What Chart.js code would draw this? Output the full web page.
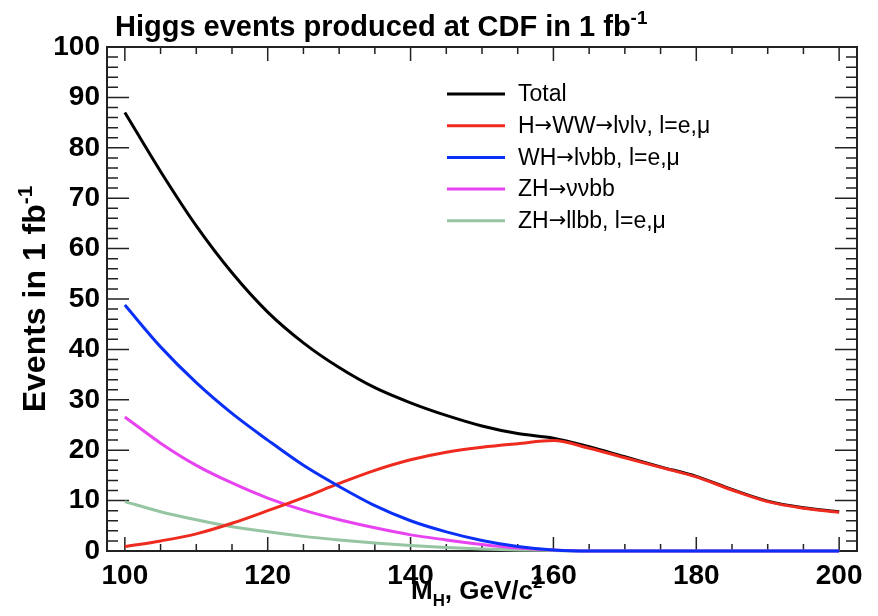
<!DOCTYPE html>
<html>
<head>
<meta charset="utf-8">
<script src="https://cdn.jsdelivr.net/npm/chart.js@4"></script>
<style>
    html, body { margin: 0; padding: 0; background: #fff; }
    #wrap { width: 878px; height: 616px; }
</style>
</head>
<body>
<div id="wrap"><canvas id="lineChart" width="878" height="616"></canvas></div>
<script>
// Higgs mass points (GeV/c^2)
var mass = [100, 105, 110, 115, 120, 125, 130, 135, 140, 145, 150, 155, 160, 165, 170, 175, 180, 185, 190, 195, 200];

// events in 1 fb-1
var total  = [87.0, 75.3, 64.5, 55.2, 47.4, 41.3, 36.4, 32.4, 29.4, 26.9, 24.8, 23.3, 22.4, 20.7, 18.7, 16.7, 14.8, 12.2, 9.9, 8.6, 7.8];
var hww    = [0.9, 2.0, 3.4, 5.5, 8.0, 10.6, 13.4, 16.0, 18.1, 19.6, 20.6, 21.3, 21.9, 20.4, 18.5, 16.6, 14.7, 12.1, 9.8, 8.5, 7.7];
var whlvbb = [48.8, 40.5, 33.4, 27.3, 22.0, 17.0, 12.8, 9.0, 6.0, 3.8, 2.1, 0.9, 0.2, 0, 0, 0, 0, 0, 0, 0, 0];
var zhvvbb = [26.6, 21.4, 17.0, 13.5, 10.5, 8.1, 6.2, 4.6, 3.2, 2.2, 1.3, 0.6, 0.2, 0, 0, 0, 0, 0, 0, 0, 0];
var zhllbb = [9.8, 7.8, 6.2, 4.8, 3.8, 2.9, 2.2, 1.6, 1.1, 0.7, 0.4, 0.2, 0.1, 0, 0, 0, 0, 0, 0, 0, 0];

var seriesLabels = ["Total", "H\u2192WW\u2192l\u03bdl\u03bd, l=e,\u03bc", "WH\u2192l\u03bdbb, l=e,\u03bc", "ZH\u2192\u03bd\u03bdbb", "ZH\u2192llbb, l=e,\u03bc"];
var xTickValues = [100, 120, 140, 160, 180, 200];
var yTickStep = 10;

var FONT = "'Liberation Sans', Arial, Helvetica, sans-serif";

function toPoints(arr) {
    return mass.map(function (m, i) { return { x: m, y: arr[i] }; });
}

function makeSet(label, values, color, order) {
    return {
        label: label,
        data: toPoints(values),
        borderColor: color,
        backgroundColor: color,
        borderWidth: 3,
        pointRadius: 0,
        fill: false,
        clip: 3,
        cubicInterpolationMode: 'monotone',
        order: order
    };
}

// draws text pieces with super/subscripts, returns end x
function drawRich(ctx, parts, x, y, size) {
    parts.forEach(function (p) {
        var fs = p.script ? size * 0.65 : size;
        var dy = p.script === 'sup' ? -size * 0.42 : (p.script === 'sub' ? size * 0.28 : 0);
        ctx.font = 'bold ' + fs + 'px ' + FONT;
        ctx.fillText(p.t, x, y + dy);
        x += ctx.measureText(p.t).width;
    });
    return x;
}

function richWidth(ctx, parts, size) {
    var w = 0;
    parts.forEach(function (p) {
        var fs = p.script ? size * 0.65 : size;
        ctx.font = 'bold ' + fs + 'px ' + FONT;
        w += ctx.measureText(p.t).width;
    });
    return w;
}

// legend text, arrows drawn with DejaVu so they come out long like the original
function drawLegendText(ctx, text, x, y) {
    var bits = text.split('\u2192');
    bits.forEach(function (b, i) {
        ctx.font = '23px ' + FONT;
        ctx.fillText(b, x, y);
        x += ctx.measureText(b).width;
        if (i < bits.length - 1) {
            ctx.font = '21px "DejaVu Sans"';
            ctx.fillText('\u2192', x, y);
            x += ctx.measureText('\u2192').width;
        }
    });
}

var rootStyle = {
    id: 'rootStyle',
    beforeDatasetsDraw: function (chart) {
        var ctx = chart.ctx;
        var a = chart.chartArea;
        var xs = chart.scales.x, ys = chart.scales.y;
        ctx.save();

        // frame
        ctx.strokeStyle = '#222';
        ctx.lineWidth = 2;
        ctx.strokeRect(a.left, a.top, a.right - a.left, a.bottom - a.top);

        // inward ticks, x every 5 (major every 20)
        ctx.lineWidth = 1.5;
        ctx.beginPath();
        for (var v = 100; v <= 200; v += 5) {
            var px = xs.getPixelForValue(v);
            var len = (v % 20 === 0) ? 14 : 7;
            ctx.moveTo(px, a.bottom); ctx.lineTo(px, a.bottom - len);
            ctx.moveTo(px, a.top); ctx.lineTo(px, a.top + len);
        }
        // y every 2 (major every 10)
        for (var w = 0; w <= 100; w += 2) {
            var py = ys.getPixelForValue(w);
            var l2 = (w % 10 === 0) ? 22 : 11;
            ctx.moveTo(a.left, py); ctx.lineTo(a.left + l2, py);
            ctx.moveTo(a.right, py); ctx.lineTo(a.right - l2, py);
        }
        ctx.stroke();
        ctx.restore();
    },
    afterDraw: function (chart) {
        var ctx = chart.ctx;
        var a = chart.chartArea;
        ctx.save();

        // legend
        var lx = 447, ly = 94, step = 31.7;
        chart.data.datasets.forEach(function (ds, i) {
            var yy = ly + i * step;
            ctx.strokeStyle = ds.borderColor;
            ctx.lineWidth = 3;
            ctx.beginPath();
            ctx.moveTo(lx, yy); ctx.lineTo(lx + 58, yy);
            ctx.stroke();
            ctx.fillStyle = '#000';
            ctx.textBaseline = 'middle';
            ctx.textAlign = 'left';
            drawLegendText(ctx, ds.label, lx + 71, yy + 1);
        });

        // title
        ctx.fillStyle = '#000';
        ctx.textBaseline = 'alphabetic';
        ctx.textAlign = 'left';
        drawRich(ctx, [{ t: 'Higgs events produced at CDF in 1 fb' }, { t: '-1', script: 'sup' }], 115, 36, 29);

        // x axis title
        drawRich(ctx, [{ t: 'M' }, { t: 'H', script: 'sub' }, { t: ', GeV/c' }, { t: '2', script: 'sup' }], 411, 599, 26);

        // y axis title
        var yParts = [{ t: 'Events in 1 fb' }, { t: '-1', script: 'sup' }];
        var yw = richWidth(ctx, yParts, 32);
        ctx.translate(45, (a.top + a.bottom) / 2);
        ctx.rotate(-Math.PI / 2);
        drawRich(ctx, yParts, -yw / 2, 0, 32);

        ctx.restore();
    }
};

var lineData = {
    datasets: [
        makeSet(seriesLabels[0], total, '#000000', 4),
        makeSet(seriesLabels[1], hww, '#ee2b1e', 1),
        makeSet(seriesLabels[2], whlvbb, '#0a30f5', 0),
        makeSet(seriesLabels[3], zhvvbb, '#e743f0', 2),
        makeSet(seriesLabels[4], zhllbb, '#96c5a2', 3)
    ]
};

var lineOptions = {
    responsive: false,
    animation: false,
    devicePixelRatio: 1,
    layout: { padding: { top: 47, right: 21, left: 0, bottom: 0 } },
    plugins: {
        legend: { display: false },
        title: { display: false },
        tooltip: { enabled: false }
    },
    scales: {
        x: {
            type: 'linear',
            min: 97.5,
            max: 202.5,
            afterBuildTicks: function (scale) {
                scale.ticks = xTickValues.map(function (v) { return { value: v }; });
            },
            afterFit: function (scale) { scale.height = 65; },
            grid: { display: false, drawTicks: false },
            border: { display: false },
            ticks: {
                padding: 8,
                color: '#000',
                maxRotation: 0,
                autoSkip: false,
                font: { family: FONT, size: 28, weight: 'bold' }
            }
        },
        y: {
            type: 'linear',
            min: 0,
            max: 100,
            afterFit: function (scale) { scale.width = 107; },
            grid: { display: false, drawTicks: false },
            border: { display: false },
            ticks: {
                stepSize: yTickStep,
                padding: 7,
                color: '#000',
                font: { family: FONT, size: 28, weight: 'bold' }
            }
        }
    }
};

var ctx = document.getElementById("lineChart").getContext("2d");
new Chart(ctx, { type: 'line', data: lineData, options: lineOptions, plugins: [rootStyle] });
</script>
</body>
</html>
